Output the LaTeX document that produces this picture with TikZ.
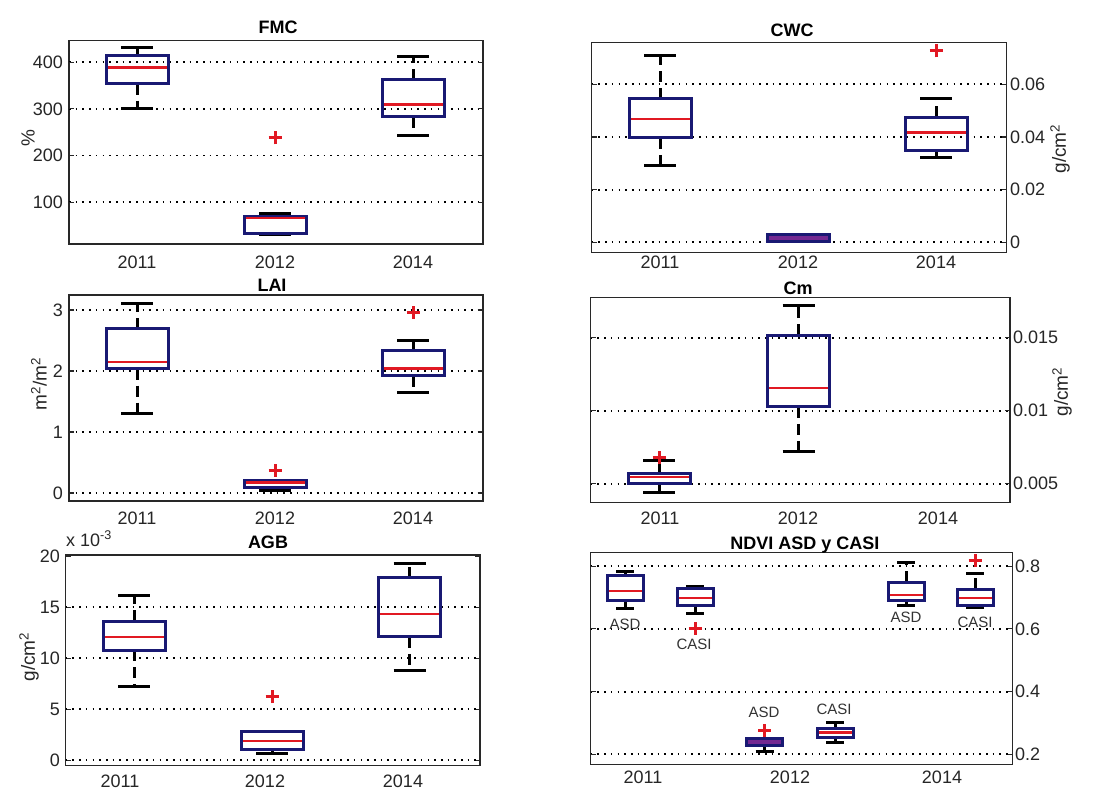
\documentclass[tikz,border=0pt]{standalone}
\usepackage{fontspec}
\setmainfont{Liberation Sans}
\definecolor{boxblue}{RGB}{25,25,115}
\definecolor{medred}{RGB}{225,25,35}
\definecolor{mixpurple}{RGB}{115,40,145}
\definecolor{axgray}{RGB}{40,40,40}
\tikzset{
  axframe/.style={draw=axgray, line width=1.5pt},
  gridline/.style={black, line width=1.8pt, dash pattern=on 1.6pt off 5.1pt},
  tickmark/.style={axgray, line width=1.2pt},
  boxline/.style={boxblue, line width=3pt},
  medline/.style={medred, line width=2.6pt},
  whiskline/.style={black, line width=3pt, dash pattern=on 11pt off 6pt},
  capline/.style={black, line width=3pt},
  outlier/.style={medred, line width=3pt},
  ticklabel/.style={font=\fontsize{18}{18}\selectfont, text=black!85, inner sep=0pt},
  ylabel/.style={font=\fontsize{19}{19}\selectfont, text=black!85, rotate=90, inner sep=0pt},
  paneltitle/.style={font=\fontsize{18}{18}\selectfont\bfseries, inner sep=0pt, anchor=base},
  sensor/.style={font=\fontsize{15}{15}\selectfont, text=black!80, inner sep=0pt}
}

\begin{document}
\begin{tikzpicture}[x=1pt, y=-1pt]
    \useasboundingbox (0,0) rectangle (1109,791);
    \fill[white] (0,0) rectangle (1109,791);

    % Box, median, whisker and outlier macros
    \def\bhw{31}
    \def\chw{16}
    \def\boxyr(#1,#2,#3,#4){
        \draw[boxline] ({#1-\bhw},#2) rectangle ({#1+\bhw},#4);
        \draw[medline] ({#1-\bhw+1.5},#3) -- ({#1+\bhw-1.5},#3);
    }
    \def\whisk(#1,#2,#3){
        \draw[whiskline] (#1,#2) -- (#1,#3);
        \draw[capline] ({#1-\chw},#3) -- ({#1+\chw},#3);
    }
    \def\outl(#1,#2){
        \draw[outlier] (#1,#2) +(-6.5pt,0) -- +(6.5pt,0) (#1,#2) +(0,-6.5pt) -- +(0,6.5pt);
    }

    % FMC
    \draw[axframe] (69,40.7) rectangle (483,244);
    \node[paneltitle] (fmc-title) at (278,33.3) {FMC};
    \node[ylabel] (fmc-ylab) at (28,138) {\%};
    \foreach \yr/\cx in {2011/137, 2012/275, 2014/413}
        \node[ticklabel] (fmc-x\yr) at (\cx,262) {\yr};
    \begin{scope}[shift={(0,249)}, y=0.467pt]
        \foreach \v in {100,200,300,400}{
            \draw[gridline] (69,\v) -- (483,\v);
            \draw[tickmark] (69,\v) -- +(5pt,0) (483,\v) -- +(-5pt,0);
            \node[ticklabel, anchor=east] (fmc-y\v) at (63,\v) {\v};
        }
        \whisk(137,354,301) \whisk(137,415,431)
        \boxyr(137,354,389,415)
        \whisk(275,34,31.5) \whisk(275,69,77)
        \boxyr(275,34,66,69)
        \outl(275,238)
        \whisk(413,283,244) \whisk(413,362,412)
        \boxyr(413,283,310,362)
    \end{scope}

    % CWC
    \draw[axframe] (591.7,42.3) rectangle (1006.7,252.3);
    \node[paneltitle] (cwc-title) at (792,36.7) {CWC};
    \node[ylabel] (cwc-ylab) at (1060,149) {g/cm\textsuperscript{2}};
    \foreach \yr/\cx in {2011/660, 2012/798, 2014/936}
        \node[ticklabel] (cwc-x\yr) at (\cx,262) {\yr};
    \begin{scope}[shift={(0,242.3)}, y=2633pt]
        \foreach \v [count=\i] in {0,0.02,0.04,0.06}{
            \draw[gridline] (591.7,\v) -- (1006.7,\v);
            \draw[tickmark] (591.7,\v) -- +(5pt,0) (1006.7,\v) -- +(-5pt,0);
            \node[ticklabel, anchor=west] (cwc-y\i) at (1010,\v) {\v};
        }
        \whisk(660,0.0397,0.0291) \whisk(660,0.0545,0.0711)
        \boxyr(660,0.0397,0.0468,0.0545)
        \draw[boxline, fill=mixpurple] (767,0.0003) rectangle (829,0.0028);
        \whisk(936,0.035,0.0321) \whisk(936,0.0475,0.0545)
        \boxyr(936,0.035,0.0416,0.0475)
        \outl(936,0.0727)
    \end{scope}

    % LAI
    \draw[axframe] (69,295) rectangle (483,501);
    \node[paneltitle] (lai-title) at (272,291.7) {LAI};
    \node[ylabel] (lai-ylab) at (39,384) {m\textsuperscript{2}/m\textsuperscript{2}};
    \foreach \yr/\cx in {2011/137, 2012/275, 2014/413}
        \node[ticklabel] (lai-x\yr) at (\cx,518) {\yr};
    \begin{scope}[shift={(0,493)}, y=61pt]
        \foreach \v in {0,1,2,3}{
            \draw[gridline] (69,\v) -- (483,\v);
            \draw[tickmark] (69,\v) -- +(5pt,0) (483,\v) -- +(-5pt,0);
            \node[ticklabel, anchor=east] (lai-y\v) at (63,\v) {\v};
        }
        \whisk(137,2.04,1.31) \whisk(137,2.69,3.10)
        \boxyr(137,2.04,2.15,2.69)
        \whisk(275,0.093,0.04)
        \boxyr(275,0.093,0.17,0.197)
        \outl(275,0.37)
        \whisk(413,1.92,1.64) \whisk(413,2.33,2.5)
        \boxyr(413,1.92,2.04,2.33)
        \outl(413,2.96)
    \end{scope}

    % Cm
    \draw[axframe] (590.7,297.7) rectangle (1010,502.7);
    \node[paneltitle] (cm-title) at (798,295) {Cm};
    \node[ylabel] (cm-ylab) at (1062,392) {g/cm\textsuperscript{2}};
    \foreach \yr/\cx in {2011/660, 2012/798, 2014/938}
        \node[ticklabel] (cm-x\yr) at (\cx,518) {\yr};
    \begin{scope}[shift={(0,556.7)}, y=14600pt]
        \foreach \v [count=\i] in {0.005,0.01,0.015}{
            \draw[gridline] (590.7,\v) -- (1010,\v);
            \draw[tickmark] (590.7,\v) -- +(5pt,0) (1010,\v) -- +(-5pt,0);
            \node[ticklabel, anchor=west] (cm-y\i) at (1013,\v) {\v};
        }
        \whisk(659,0.005,0.00441) \whisk(659,0.00571,0.00662)
        \boxyr(659,0.005,0.00544,0.00571)
        \outl(659,0.00678)
        \whisk(798.7,0.01027,0.00719) \whisk(798.7,0.01519,0.0172)
        \boxyr(798.7,0.01027,0.01157,0.01519)
    \end{scope}

    % AGB
    \draw[axframe] (65.7,555) rectangle (480,765.7);
    \node[paneltitle] (agb-title) at (268,548) {AGB};
    \node[ticklabel, anchor=base west] (agb-exp) at (66,546) {x 10\textsuperscript{-3}};
    \node[ylabel] (agb-ylab) at (29,657) {g/cm\textsuperscript{2}};
    \foreach \yr/\cx in {2011/120, 2012/265, 2014/403}
        \node[ticklabel] (agb-x\yr) at (\cx,781) {\yr};
    \begin{scope}[shift={(0,760.3)}, y=10.2pt]
        \foreach \v in {0,5,10,15,20}{
            \draw[tickmark] (65.7,\v) -- +(5pt,0) (480,\v) -- +(-5pt,0);
            \node[ticklabel, anchor=east] (agb-y\v) at (60,\v) {\v};
        }
        \foreach \v in {0,5,10,15}
            \draw[gridline] (65.7,\v) -- (480,\v);
        \whisk(134,10.8,7.2) \whisk(134,13.65,16.2)
        \boxyr(134,10.8,12.1,13.65)
        \whisk(272,1.08,0.65)
        \boxyr(272,1.08,1.89,2.87)
        \outl(272,6.24)
        \whisk(409.5,12.1,8.85) \whisk(409.5,17.9,19.3)
        \boxyr(409.5,12.1,14.34,17.9)
    \end{scope}

    % NDVI ASD y CASI
    \draw[axframe] (590.7,552.3) rectangle (1012.7,764.3);
    \node[paneltitle] (ndvi-title) at (805,549) {NDVI ASD y CASI};
    \foreach \yr/\cx in {2011/643, 2012/790, 2014/942}
        \node[ticklabel] (ndvi-x\yr) at (\cx,777) {\yr};
    \begin{scope}[shift={(0,817)}, y=313.5pt]
        \def\bhw{18}
        \def\chw{9}
        \foreach \v [count=\i] in {0.2,0.4,0.6,0.8}{
            \draw[gridline] (590.7,\v) -- (1012.7,\v);
            \draw[tickmark] (590.7,\v) -- +(5pt,0) (1012.7,\v) -- +(-5pt,0);
            \node[ticklabel, anchor=west] (ndvi-y\i) at (1015,\v) {\v};
        }
        % 2011
        \whisk(625,0.691,0.664) \whisk(625,0.77,0.782)
        \boxyr(625,0.691,0.721,0.77)
        \whisk(695,0.676,0.648) \whisk(695,0.73,0.735)
        \boxyr(695,0.676,0.698,0.73)
        \outl(695,0.602)
        % 2012
        \whisk(764.7,0.227,0.208)
        \draw[boxline, fill=mixpurple] (746.7,0.227) rectangle (782.7,0.249);
        \outl(764.7,0.277)
        \whisk(835,0.254,0.237) \whisk(835,0.283,0.302)
        \boxyr(835,0.254,0.27,0.283)
        % 2014
        \whisk(906,0.69,0.676) \whisk(906,0.749,0.812)
        \boxyr(906,0.69,0.708,0.749)
        \whisk(975,0.674,0.668) \whisk(975,0.727,0.777)
        \boxyr(975,0.674,0.698,0.727)
        \outl(975,0.817)
    \end{scope}
    \node[sensor] (asd-11) at (625,624) {ASD};
    \node[sensor] (casi-11) at (694,644) {CASI};
    \node[sensor] (asd-12) at (764,712) {ASD};
    \node[sensor] (casi-12) at (834,709) {CASI};
    \node[sensor] (asd-14) at (906,617) {ASD};
    \node[sensor] (casi-14) at (975,622) {CASI};
\end{tikzpicture}
\end{document}
